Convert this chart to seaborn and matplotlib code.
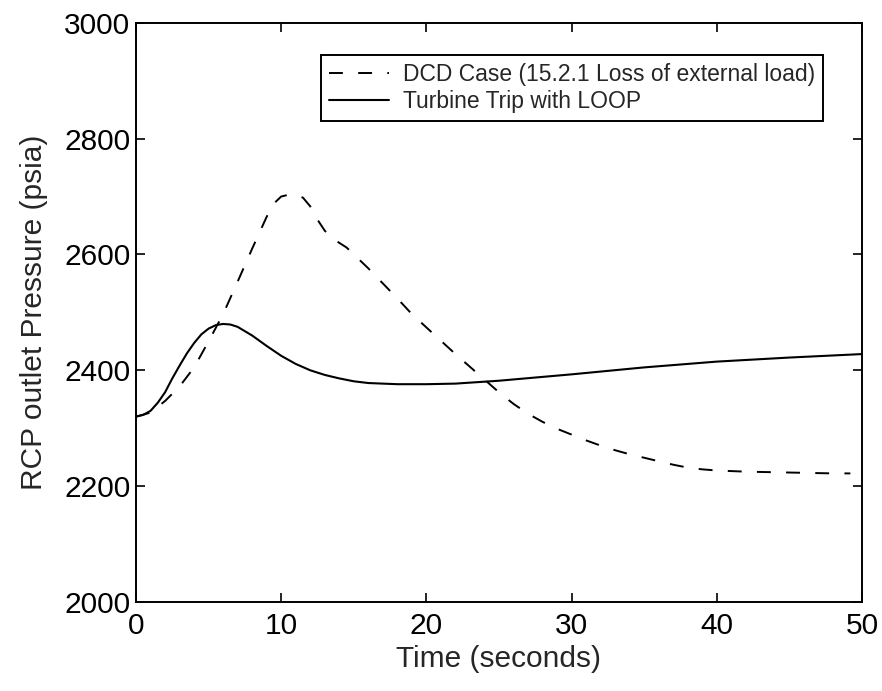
import matplotlib
matplotlib.use("Agg")
import matplotlib.pyplot as plt
import seaborn as sns
import pandas as pd

# ---- data ----
t_dcd = [0, 1, 2, 3, 4, 5, 6, 7, 8, 9, 9.5, 10, 10.5, 11, 11.5, 12, 12.5, 13, 13.5, 14, 14.5, 15,
         16, 17, 18, 19, 20, 21, 22, 23, 24, 25, 26, 27, 28, 29, 30, 31, 32, 33, 34, 35, 36, 37,
         38, 39, 40, 42, 44, 46, 48, 49.2]
p_dcd = [2320, 2327, 2347, 2372, 2405, 2450, 2497, 2553, 2610, 2665, 2688, 2700, 2703, 2703, 2698,
         2683, 2660, 2641, 2628, 2620, 2612, 2600, 2576, 2550, 2524, 2497, 2474, 2451, 2428, 2406,
         2384, 2362, 2342, 2325, 2311, 2299, 2289, 2279, 2270, 2262, 2255, 2249, 2243, 2237, 2232,
         2229, 2227, 2225, 2224, 2223, 2222, 2222]
t_tt = [0, 0.5, 1, 1.5, 2, 2.5, 3, 3.5, 4, 4.5, 5, 5.5, 6, 6.5, 7, 8, 9, 10, 11, 12, 13, 14, 15,
        16, 17, 18, 20, 22, 25, 30, 35, 40, 45, 50]
p_tt = [2320, 2323, 2330, 2344, 2362, 2386, 2408, 2429, 2447, 2462, 2472, 2478, 2480, 2479, 2475,
        2460, 2442, 2425, 2411, 2400, 2392, 2386, 2381, 2378, 2377, 2376, 2376, 2377, 2382, 2393,
        2405, 2415, 2422, 2428]
labels = ["DCD Case (15.2.1 Loss of external load)", "Turbine Trip with LOOP"]
x_ticks = [0, 10, 20, 30, 40, 50]
y_ticks = [2000, 2200, 2400, 2600, 2800, 3000]

sns.set_theme(style="ticks")
plt.rcParams['font.family'] = ['Liberation Sans', 'DejaVu Sans']
plt.rcParams['lines.scale_dashes'] = False

fig = plt.figure(figsize=(8.82, 6.91), dpi=100)
ax = fig.add_axes([0.1542, 0.1288, 0.8231, 0.8383])

df1 = pd.DataFrame({"t": t_dcd, "p": p_dcd})
df2 = pd.DataFrame({"t": t_tt, "p": p_tt})
sns.lineplot(data=df1, x="t", y="p", ax=ax, color="black", linewidth=1.4,
             linestyle=(0, (10, 11)), label=labels[0])
sns.lineplot(data=df2, x="t", y="p", ax=ax, color="black", linewidth=1.5,
             linestyle="-", label=labels[1])

ax.set_xlim(0, 50)
ax.set_ylim(2000, 3000)
ax.set_xticks(x_ticks)
ax.set_yticks(y_ticks)
ax.set_xlabel("Time (seconds)", fontsize=21.5, labelpad=4)
ax.set_ylabel("RCP outlet Pressure (psia)", fontsize=21.5, labelpad=12)
for s in ax.spines.values():
    s.set_visible(True)
    s.set_linewidth(1.4)
    s.set_color("black")
ax.tick_params(axis="both", direction="in", length=6.5, width=1.2, colors="black",
               labelsize=21.5, top=True, right=True)
ax.tick_params(axis="x", pad=7)
ax.tick_params(axis="y", pad=4)

leg = ax.legend(loc="upper right", fontsize=16.5, frameon=True, fancybox=False,
                edgecolor="black", framealpha=1, handlelength=2.6, handletextpad=0.6,
                borderpad=0.35, labelspacing=0.15, borderaxespad=0,
                bbox_to_anchor=(0.946, 0.944))
leg.get_frame().set_linewidth(1.4)

fig.savefig("out.png", dpi=100, facecolor="white")
